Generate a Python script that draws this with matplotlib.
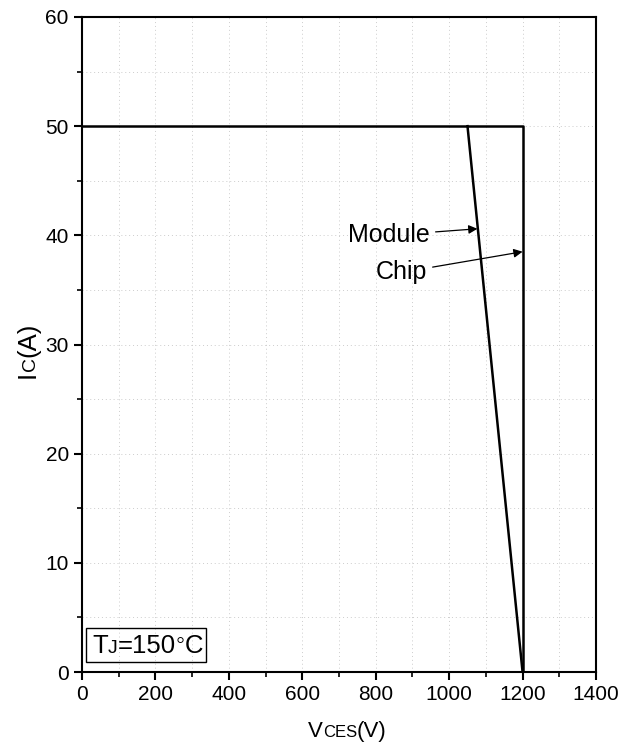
import matplotlib.pyplot as plt
from matplotlib.patches import Rectangle
from matplotlib.transforms import Affine2D

# Reverse bias safe operating area, Tj = 150 C
chip_v = [0, 1200, 1200]
chip_i = [50, 50, 0]
module_v = [1050, 1200]
module_i = [50, 0]

x_ticks = [0, 200, 400, 600, 800, 1000, 1200, 1400]
y_ticks = [0, 10, 20, 30, 40, 50, 60]

plt.rcParams["font.family"] = ["Liberation Sans", "DejaVu Sans"]

fig = plt.figure(figsize=(6.21, 7.47), dpi=100)
ax = fig.add_axes([82 / 621, 75 / 747, 514 / 621, 655 / 747])


def chained_text(px, py, parts, rotation=0):
    """Draw (string, size, rise) pieces one after another on a common
    baseline, starting at pixel (px, py) -- Origin-style small subscripts."""
    for s, size, rise in parts:
        if rotation == 0:
            tr = Affine2D().translate(px, py + rise)
        else:
            tr = Affine2D().translate(px - rise, py)
        t = fig.text(0, 0, s, fontsize=size, ha="left", va="baseline",
                     rotation=rotation, rotation_mode="anchor", transform=tr)
        fig.canvas.draw()
        bb = t.get_window_extent()
        if rotation == 0:
            px = bb.x1
        else:
            py = bb.y1


ax.plot(chip_v, chip_i, color="black", linewidth=1.8)
ax.plot(module_v, module_i, color="black", linewidth=1.8)

ax.set_xlim(0, 1400)
ax.set_ylim(0, 60)
ax.set_xticks(x_ticks)
ax.set_yticks(y_ticks)
ax.set_xticks(range(100, 1400, 200), minor=True)
ax.set_yticks(range(5, 60, 10), minor=True)
ax.tick_params(which="major", direction="out", length=6, width=1.5, labelsize=15)
ax.tick_params(which="minor", direction="out", length=3.5, width=1.2)
ax.grid(True, which="both", color="#cccccc", linestyle=(0, (1, 3)), linewidth=0.7)
for s in ax.spines.values():
    s.set_linewidth(1.5)

# axis labels with baseline-aligned small subscripts
chained_text(308, 747 - 737, [("V", 16, 0), ("CES", 12, 0), ("(V)", 16, 0)])
chained_text(35, 747 - 378, [("I", 18.5, 0), ("C", 14, 0), ("(A)", 18.5, 0)],
             rotation=90)

ax.annotate("Module", xy=(1077, 40.6), xytext=(948, 40.0), fontsize=18,
            ha="right", va="center",
            arrowprops=dict(arrowstyle="-|>", color="black", lw=0.9,
                            mutation_scale=13, shrinkA=2, shrinkB=0))
ax.annotate("Chip", xy=(1200, 38.5), xytext=(940, 36.6), fontsize=18,
            ha="right", va="center",
            arrowprops=dict(arrowstyle="-|>", color="black", lw=0.9,
                            mutation_scale=13, shrinkA=2, shrinkB=0))

# boxed junction temperature label
chained_text(92, 747 - 653, [("T", 18.5, 0), ("J", 14, 0), ("=150", 18.5, 0),
                             ("\u25e6", 18.5, 5), ("C", 18.5, 0)])
fig.patches.append(Rectangle((86, 747 - 662), 120, 34, transform=None,
                             facecolor="none", edgecolor="black", linewidth=1.0))

fig.savefig("out.png", dpi=100)
